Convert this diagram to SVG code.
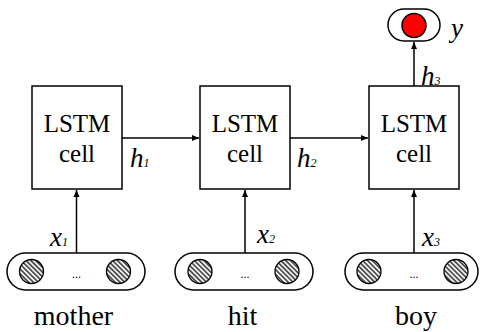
<svg xmlns="http://www.w3.org/2000/svg" width="480" height="332" viewBox="0 0 480 332">
<style>
.box{fill:#fff;stroke:#000;stroke-width:1.5}
.oval{fill:#fff;stroke:#000;stroke-width:1.5}
.emb{fill:url(#hatch);stroke:#000;stroke-width:1.3}
text{font-family:"Liberation Serif","Times New Roman",Times,"DejaVu Serif",serif;fill:#000}
.lbl{font-size:25px;text-anchor:middle}
.word{font-size:28px;text-anchor:middle}
.it{font-style:italic}
.conn{stroke:#000;stroke-width:1.5;fill:none}
</style>
<defs>
<pattern id="hatch" width="3.4" height="3.4" patternUnits="userSpaceOnUse" patternTransform="rotate(-45)">
<rect width="3.4" height="3.4" fill="#f2f2f2"/>
<rect width="1.6" height="3.4" fill="#444"/>
</pattern>
<marker id="arr" markerWidth="8" markerHeight="8" refX="7" refY="4" orient="auto" markerUnits="userSpaceOnUse">
<path d="M0,1 L7,4 L0,7 Z" fill="#000"/>
</marker>
</defs>

<g id="connectors">
<line class="conn" x1="122" y1="138" x2="199" y2="138" marker-end="url(#arr)"/>
<line class="conn" x1="290" y1="138" x2="368" y2="138" marker-end="url(#arr)"/>
<line class="conn" x1="76.5" y1="253" x2="76.5" y2="190" marker-end="url(#arr)"/>
<line class="conn" x1="245" y1="253" x2="245" y2="190" marker-end="url(#arr)"/>
<line class="conn" x1="414" y1="253" x2="414" y2="190" marker-end="url(#arr)"/>
<line class="conn" x1="414" y1="86" x2="414" y2="42" marker-end="url(#arr)"/>
</g>

<g id="lstm1">
<rect class="box" x="32" y="86" width="90" height="103"/>
<text class="lbl" x="77" y="131.5">LSTM</text>
<text class="lbl" x="77" y="161.5">cell</text>
</g>
<g id="lstm2">
<rect class="box" x="200" y="86" width="90" height="103"/>
<text class="lbl" x="245" y="131.5">LSTM</text>
<text class="lbl" x="245" y="161.5">cell</text>
</g>
<g id="lstm3">
<rect class="box" x="369" y="86" width="90" height="103"/>
<text class="lbl" x="414" y="131.5">LSTM</text>
<text class="lbl" x="414" y="161.5">cell</text>
</g>

<g id="h-labels">
<text class="it" x="130" y="167" font-size="27">h<tspan font-size="12">1</tspan></text>
<text class="it" x="297" y="167" font-size="27">h<tspan font-size="12">2</tspan></text>
<text class="it" x="421" y="85" font-size="27">h<tspan font-size="12">3</tspan></text>
</g>

<g id="x-labels">
<text class="it" x="50" y="246" font-size="27">x<tspan font-size="12">1</tspan></text>
<text class="it" x="257" y="243" font-size="27">x<tspan font-size="12">2</tspan></text>
<text class="it" x="422" y="246" font-size="27">x<tspan font-size="12">3</tspan></text>
</g>

<g id="output">
<rect class="oval" x="388" y="9" width="52" height="32" rx="16" ry="16"/>
<circle cx="414" cy="25.5" r="12" fill="#f00" stroke="#000" stroke-width="1.5"/>
<text class="it" x="451" y="37" font-size="27">y</text>
</g>

<g id="input1">
<rect class="oval" x="7" y="253" width="138" height="37" rx="18.5" ry="18.5"/>
<circle class="emb" cx="31.5" cy="271.5" r="12"/>
<circle class="emb" cx="118.5" cy="271.5" r="12"/>
<text x="76.5" y="278" font-size="12" text-anchor="middle">...</text>
<text class="word" x="73.5" y="325">mother</text>
</g>
<g id="input2">
<rect class="oval" x="175" y="253" width="138" height="37" rx="18.5" ry="18.5"/>
<circle class="emb" cx="200" cy="271.5" r="12"/>
<circle class="emb" cx="287" cy="271.5" r="12"/>
<text x="245" y="278" font-size="12" text-anchor="middle">...</text>
<text class="word" x="242.5" y="325">hit</text>
</g>
<g id="input3">
<rect class="oval" x="345" y="253" width="133" height="37" rx="18.5" ry="18.5"/>
<circle class="emb" cx="369" cy="271.5" r="12"/>
<circle class="emb" cx="456" cy="271.5" r="12"/>
<text x="414" y="278" font-size="12" text-anchor="middle">...</text>
<text class="word" x="416" y="325">boy</text>
</g>
</svg>
